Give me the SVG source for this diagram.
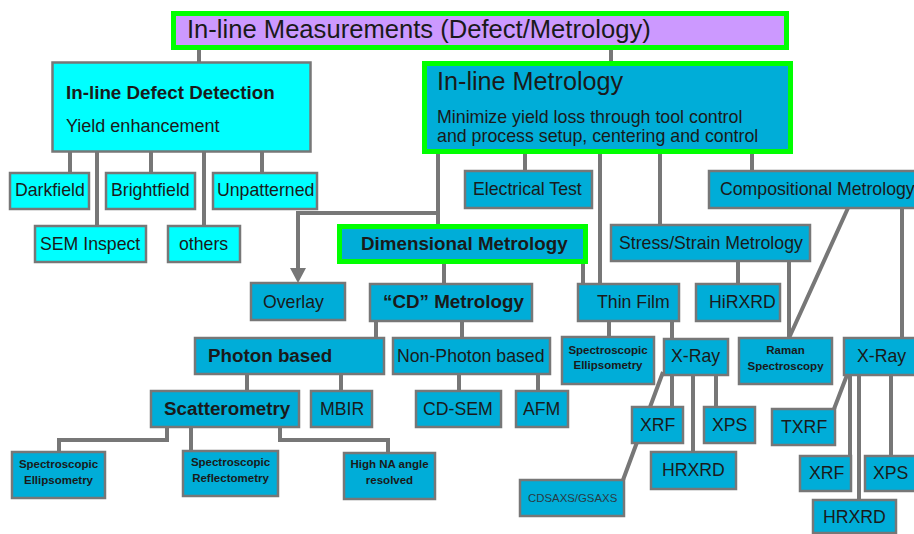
<svg xmlns="http://www.w3.org/2000/svg" width="914" height="534" viewBox="0 0 914 534">
<defs>
<style>
.b{fill:#00ADD8;stroke:#777;stroke-width:2.5}
.c{fill:#00FFFF;stroke:#777;stroke-width:2.5}
.g{stroke:#00FF00;stroke-width:5}
.t{font-family:"Liberation Sans",Arial,sans-serif;font-size:17.7px;fill:#1a1a1a}
.tb{font-family:"Liberation Sans",Arial,sans-serif;font-size:18.8px;font-weight:bold;fill:#1a1a1a}
.tl{font-family:"Liberation Sans",Arial,sans-serif;font-size:25.2px;fill:#1a1a1a}
.ts{font-family:"Liberation Sans",Arial,sans-serif;font-size:11.5px;font-weight:bold;fill:#1a1a1a;text-anchor:middle}
.tx{font-family:"Liberation Sans",Arial,sans-serif;font-size:11.4px;fill:#2a3a44}
#connectors path{fill:none;stroke:#777;stroke-width:4}
</style>
<marker id="arr" markerUnits="userSpaceOnUse" markerWidth="15" markerHeight="16" viewBox="0 0 15 16" refX="0" refY="8" orient="auto">
<path d="M0,0 L15,8 L0,16 z" fill="#777"/>
</marker>
</defs>
<rect width="914" height="534" fill="#fff"/>
<g id="connectors">
<path d="M199,50V62"/>
<path d="M611,50V61"/>
<path d="M70,152V173M97,152V226M151,152V173M204,152V226M262,152V173"/>
<path d="M438,154V224"/>
<path d="M438,213H298V268" marker-end="url(#arr)"/>
<path d="M525,154V171M600,154V284M660,154V225M752,154V171"/>
<path d="M444,264V284M583,264V284M738,261V284M789,261V338"/>
<path d="M848,208L789,338M902,208V338"/>
<path d="M376,321V338M462,321V338M609,321V337M672,321V339"/>
<path d="M247,374V391M341,374V391M459,374V391M538,374V391"/>
<path d="M167,427V440H59V452M191,427V451M280,427V440H388V453"/>
<path d="M663,372L623,480M672,375V407M693,375V452M716,375V407"/>
<path d="M847,375L834,409M850,375V456M859,375V500M891,375V456"/>
</g>
<g id="n-top"><rect class="g" x="173.5" y="13.5" width="613" height="34" fill="#CC99FF"/><text class="tl" x="187" y="38" style="font-size:25.6px">In-line Measurements (Defect/Metrology)</text></g>
<g id="n-defect"><rect class="c" x="52.5" y="62.5" width="258" height="89"/><text class="tb" x="66" y="99">In-line Defect Detection</text><text class="t" x="66" y="132" style="font-size:18px">Yield enhancement</text></g>
<g id="n-metrology"><rect class="g" x="424.5" y="63.5" width="366" height="88" fill="#00ADD8"/><text class="tl" x="437" y="90">In-line Metrology</text><text class="t" x="437" y="123" style="font-size:17.8px">Minimize yield loss through tool control</text><text class="t" x="437" y="142" style="font-size:17.8px">and process setup, centering and control</text></g>
<g id="n-darkfield"><rect class="c" x="10" y="173" width="79" height="36"/><text class="t" x="15" y="196">Darkfield</text></g>
<g id="n-brightfield"><rect class="c" x="106" y="173" width="89" height="36"/><text class="t" x="111" y="196">Brightfield</text></g>
<g id="n-unpatterned"><rect class="c" x="213" y="173" width="104" height="36"/><text class="t" x="217" y="196">Unpatterned</text></g>
<g id="n-sem"><rect class="c" x="35" y="226" width="111" height="36"/><text class="t" x="40" y="250">SEM Inspect</text></g>
<g id="n-others"><rect class="c" x="168" y="226" width="72" height="36"/><text class="t" x="179" y="250">others</text></g>
<g id="n-electrical"><rect class="b" x="465" y="171" width="127" height="37"/><text class="t" x="473" y="195">Electrical Test</text></g>
<g id="n-compositional"><rect class="b" x="709" y="171" width="215" height="37"/><text class="t" x="720" y="195">Compositional Metrology</text></g>
<g id="n-stress"><rect class="b" x="611" y="225" width="199" height="36"/><text class="t" x="619" y="249">Stress/Strain Metrology</text></g>
<g id="n-dimensional"><rect class="g" x="339.5" y="226.5" width="246" height="35" fill="#00ADD8"/><text class="tb" x="361" y="250">Dimensional Metrology</text></g>
<g id="n-overlay"><rect class="b" x="251" y="283" width="94" height="37"/><text class="t" x="263" y="308">Overlay</text></g>
<g id="n-cd"><rect class="b" x="370" y="284" width="162" height="37"/><text class="tb" x="383" y="308">“CD” Metrology</text></g>
<g id="n-thinfilm"><rect class="b" x="578" y="284" width="101" height="37"/><text class="t" x="597" y="308">Thin Film</text></g>
<g id="n-hirxrd"><rect class="b" x="696" y="284" width="84" height="37"/><text class="t" x="709" y="308">HiRXRD</text></g>
<g id="n-photon"><rect class="b" x="195" y="338" width="189" height="36"/><text class="tb" x="208" y="362">Photon based</text></g>
<g id="n-nonphoton"><rect class="b" x="393" y="338" width="157" height="36"/><text class="t" x="397" y="362">Non-Photon based</text></g>
<g id="n-specell2"><rect class="b" x="562" y="337" width="92" height="47"/><text class="ts" x="608" y="354">Spectroscopic</text><text class="ts" x="608" y="369">Ellipsometry</text></g>
<g id="n-xray1"><rect class="b" x="664" y="339" width="64" height="36"/><text class="t" x="671" y="362">X-Ray</text></g>
<g id="n-raman"><rect class="b" x="739" y="338" width="93" height="46"/><text class="ts" x="785.5" y="354">Raman</text><text class="ts" x="785.5" y="370">Spectroscopy</text></g>
<g id="n-xray2"><rect class="b" x="844" y="338" width="80" height="37"/><text class="t" x="857" y="362">X-Ray</text></g>
<g id="n-scatter"><rect class="b" x="151" y="391" width="148" height="36"/><text class="tb" x="164" y="415">Scatterometry</text></g>
<g id="n-mbir"><rect class="b" x="311" y="391" width="61" height="36"/><text class="t" x="320" y="415">MBIR</text></g>
<g id="n-cdsem"><rect class="b" x="416" y="391" width="85" height="36"/><text class="t" x="423" y="415">CD-SEM</text></g>
<g id="n-afm"><rect class="b" x="516" y="391" width="52" height="36"/><text class="t" x="523" y="415">AFM</text></g>
<g id="n-xrf1"><rect class="b" x="632" y="407" width="51" height="36"/><text class="t" x="640" y="431">XRF</text></g>
<g id="n-xps1"><rect class="b" x="704" y="407" width="51" height="36"/><text class="t" x="712" y="431">XPS</text></g>
<g id="n-txrf"><rect class="b" x="772" y="409" width="63" height="36"/><text class="t" x="781" y="433">TXRF</text></g>
<g id="n-hrxrd1"><rect class="b" x="651" y="452" width="85" height="37"/><text class="t" x="662" y="476">HRXRD</text></g>
<g id="n-xrf2"><rect class="b" x="800" y="456" width="51" height="35"/><text class="t" x="809" y="479">XRF</text></g>
<g id="n-xps2"><rect class="b" x="865" y="456" width="60" height="35"/><text class="t" x="873" y="479">XPS</text></g>
<g id="n-hrxrd2"><rect class="b" x="813" y="500" width="83" height="33"/><text class="t" x="823" y="523">HRXRD</text></g>
<g id="n-cdsaxs"><rect class="b" x="520" y="480" width="104" height="36"/><text class="tx" x="528" y="502">CDSAXS/GSAXS</text></g>
<g id="n-specell1"><rect class="b" x="12" y="452" width="93" height="46"/><text class="ts" x="58.5" y="468">Spectroscopic</text><text class="ts" x="58.5" y="484">Ellipsometry</text></g>
<g id="n-specrefl"><rect class="b" x="183" y="451" width="95" height="45"/><text class="ts" x="230.5" y="466">Spectroscopic</text><text class="ts" x="230.5" y="482">Reflectometry</text></g>
<g id="n-highna"><rect class="b" x="344" y="453" width="91" height="46"/><text class="ts" x="389.5" y="468">High NA angle</text><text class="ts" x="389.5" y="484">resolved</text></g>
</svg>
